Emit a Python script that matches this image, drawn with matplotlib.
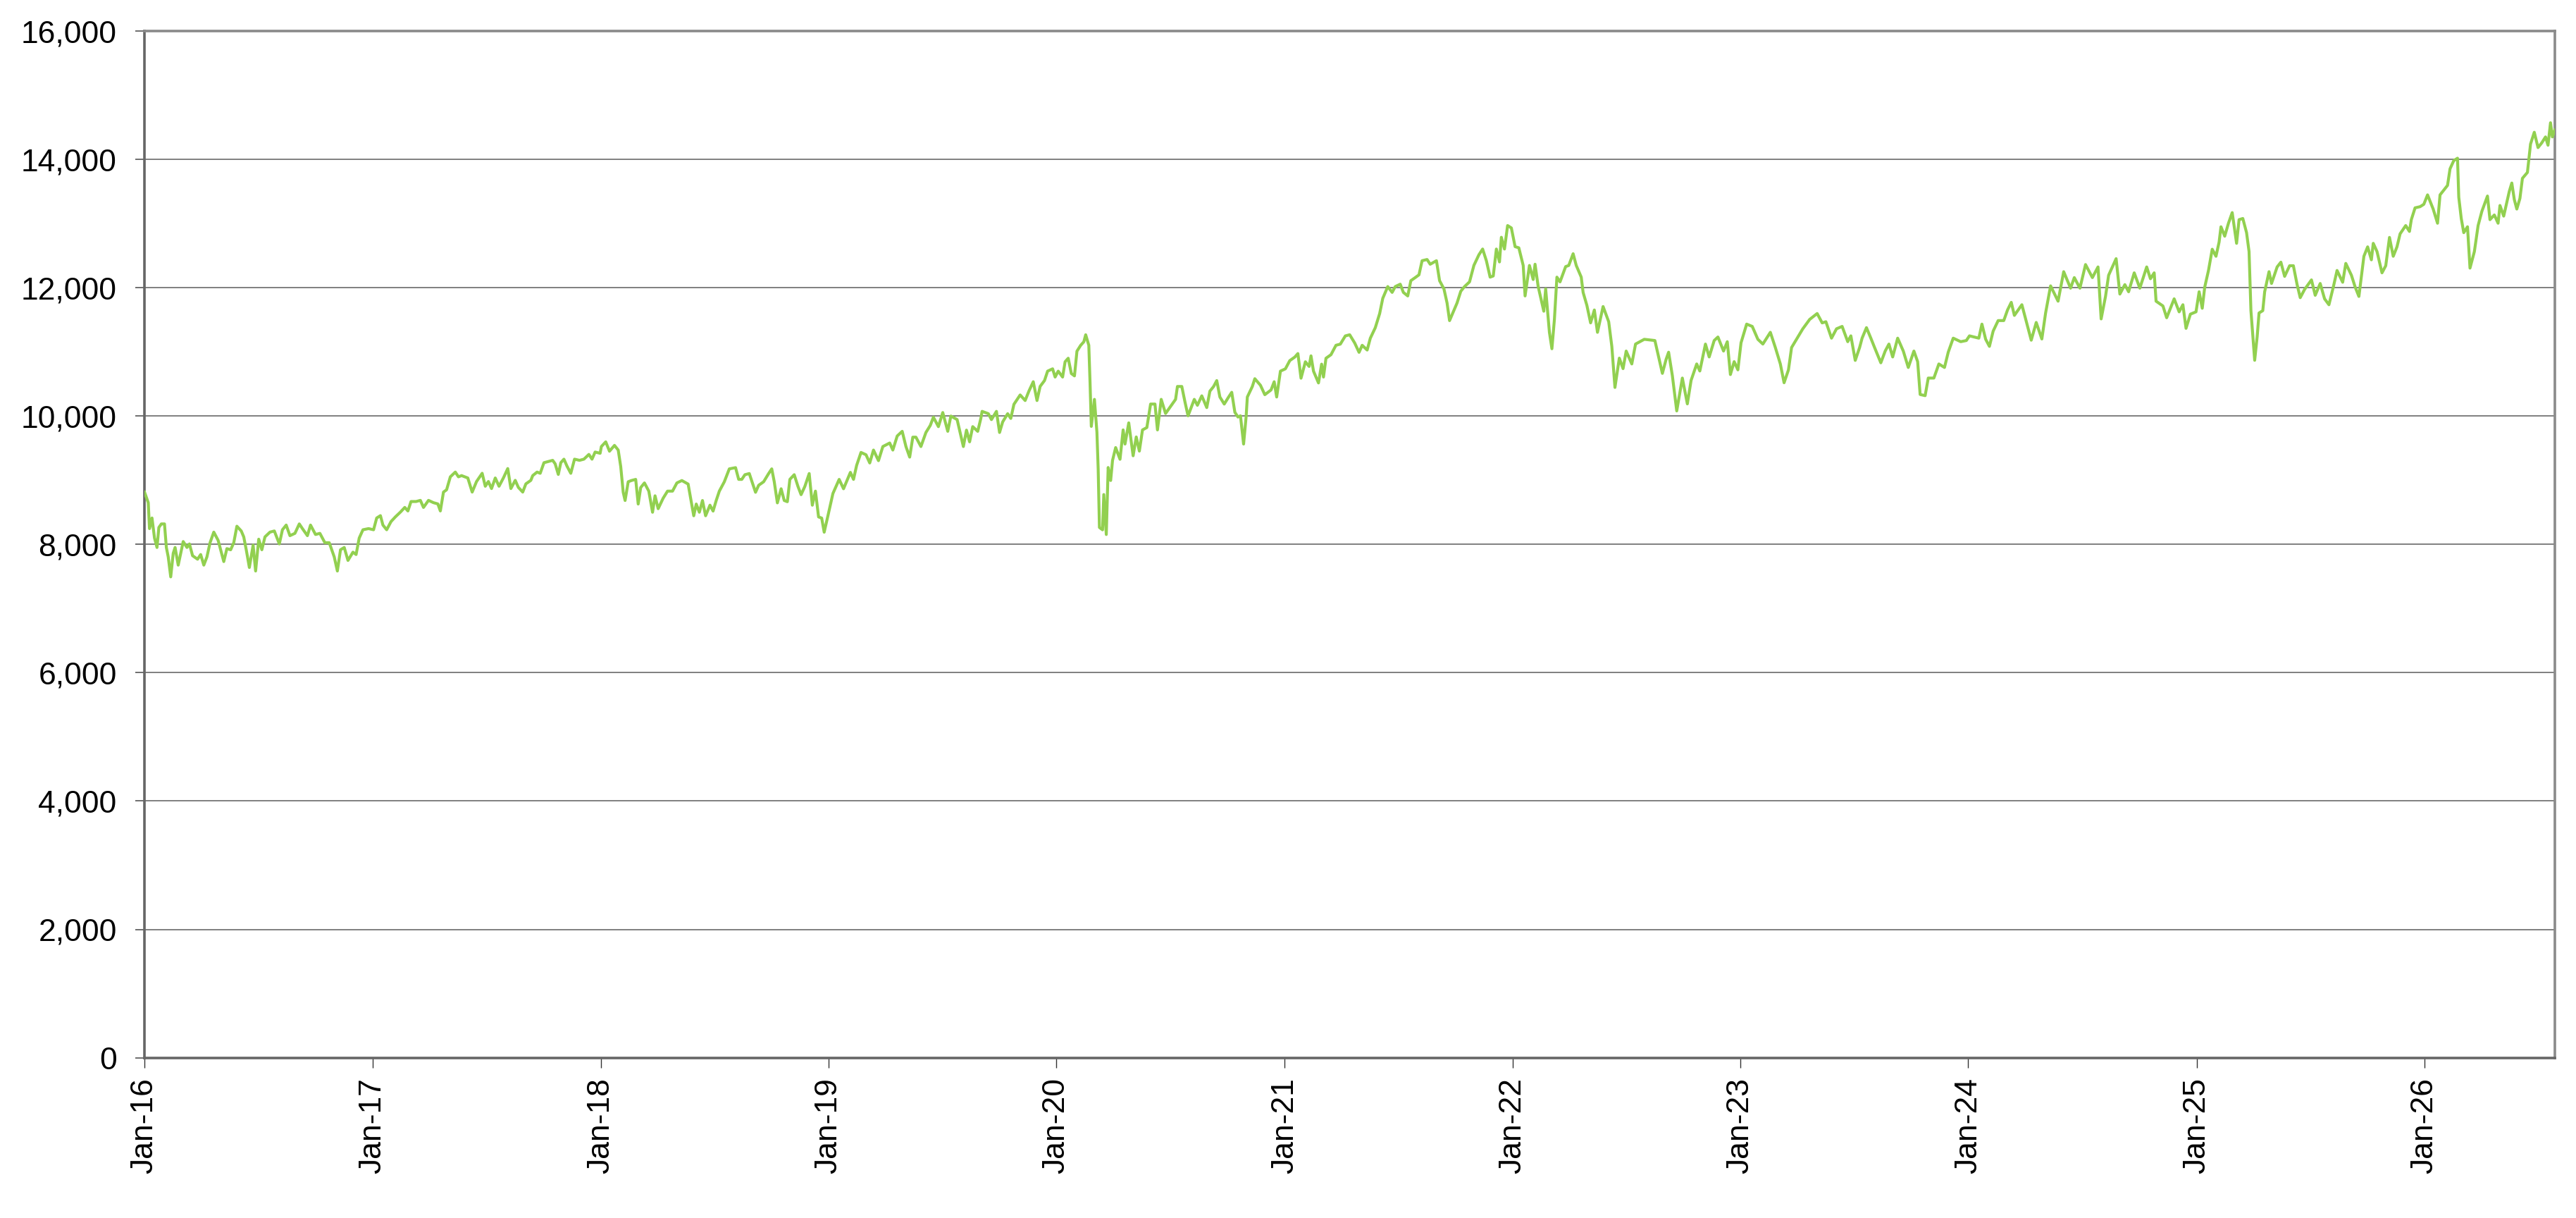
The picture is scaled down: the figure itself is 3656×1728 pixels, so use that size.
import matplotlib
matplotlib.use("Agg")
import matplotlib.pyplot as plt
import matplotlib.dates as mdates
from matplotlib.ticker import FuncFormatter
import pandas as pd

plt.rcParams['font.family'] = ['Liberation Sans', 'DejaVu Sans']

start_date = "2016-01-01"

# (days after start_date, index level)
days = [
    0, 6, 8, 12, 16, 20, 23, 27, 32, 35, 38, 42, 46, 49, 54, 62, 68, 72, 77, 85, 90, 95, 100, 105, 111, 118, 122, 127,
    132, 138, 143, 148, 155, 159, 163, 168, 174, 178, 183, 188, 193, 201, 208, 216, 221, 227, 233, 241, 248, 253, 261,
    266, 274, 281, 289, 296, 304, 309, 314, 320, 326, 334, 339, 344, 350, 359, 367, 372, 378, 382, 388, 395, 402, 410,
    417, 422, 427, 435, 442, 447, 455, 463, 470, 474, 479, 484, 490, 498, 503, 508, 518, 525, 532, 541, 546, 551, 556,
    562, 568, 575, 582, 587, 594, 599, 606, 611, 619, 622, 629, 634, 640, 647, 654, 658, 663, 667, 672, 677, 683, 689,
    697, 704, 712, 717, 722, 730,
    732, 739, 745, 753, 759, 763, 767, 770, 775, 780, 787, 791, 795, 801, 808, 814, 818, 823, 831, 838, 846, 853, 861,
    871, 874, 880, 884, 889, 894, 899, 906, 911, 916, 921, 929, 937, 947, 952, 957, 962, 969, 974, 979, 984, 992, 1000,
    1005, 1009, 1014, 1020, 1025, 1030, 1034, 1041, 1047, 1052, 1058, 1065, 1070, 1075, 1080, 1085, 1089, 1095, 1103,
    1113, 1120, 1131, 1136, 1141, 1148, 1156, 1162, 1168, 1176, 1183, 1194, 1199, 1206, 1214, 1220, 1226, 1231, 1236,
    1244, 1252, 1259, 1264, 1272, 1279, 1287, 1292, 1302, 1312, 1317, 1322, 1327, 1335, 1340, 1342, 1352, 1357, 1365,
    1370, 1375, 1383, 1388, 1393, 1403,
    1411, 1417, 1424, 1430, 1435, 1442, 1447, 1455, 1459, 1464, 1471, 1475, 1480, 1485, 1490, 1494, 1500, 1505, 1508,
    1513, 1515, 1517, 1522, 1526, 1528, 1530, 1535, 1537, 1541, 1544, 1548, 1551, 1556, 1563, 1568, 1571, 1577, 1584,
    1589, 1594, 1599, 1606, 1612, 1619, 1623, 1629, 1636, 1644, 1652, 1655, 1662, 1667, 1672, 1682, 1687, 1694, 1702,
    1707, 1713, 1718, 1723, 1730, 1737, 1742, 1747, 1752, 1756, 1761, 1765, 1767, 1775, 1779, 1788, 1795, 1805, 1810,
    1814, 1820, 1828, 1835, 1843, 1848, 1853, 1860, 1866, 1869, 1873, 1881, 1886, 1889, 1893, 1901, 1909, 1916, 1924,
    1931, 1939, 1946, 1951, 1959, 1964, 1972, 1979, 1984, 1992, 1999, 2004, 2012, 2017, 2024, 2029, 2037, 2042, 2047,
    2055, 2060, 2070, 2075, 2082, 2087, 2091, 2095, 2103, 2109, 2115, 2123, 2130, 2138,
    2144, 2150, 2156, 2161, 2166, 2171, 2174, 2179, 2184, 2190, 2196, 2202, 2209, 2212, 2219, 2225, 2228, 2233, 2242,
    2245, 2251, 2255, 2259, 2263, 2268, 2277, 2282, 2289, 2294, 2302, 2305, 2311, 2317, 2323, 2328, 2337, 2346, 2351,
    2356, 2363, 2369, 2374, 2383, 2389, 2403, 2420, 2426, 2432, 2438, 2442, 2448, 2455, 2464, 2472, 2478, 2487, 2492,
    2501, 2507, 2515, 2521, 2530, 2536, 2541, 2547, 2553, 2558, 2567, 2576, 2585, 2593, 2605, 2613, 2621, 2627, 2634,
    2639, 2648, 2657, 2668, 2680, 2688, 2694, 2703, 2711, 2720, 2729, 2734, 2741, 2748, 2752, 2759, 2766, 2772, 2782,
    2789, 2795, 2801, 2809, 2818, 2826, 2835, 2841, 2845, 2853, 2858, 2867, 2875, 2884, 2890, 2898, 2910, 2919, 2924,
    2939, 2944, 2950, 2956, 2962, 2970, 2979, 2985,
    2991, 2996, 3008, 3023, 3031, 3040, 3046, 3054, 3066, 3075, 3086, 3092, 3101, 3110, 3121, 3130, 3135, 3142, 3147,
    3159, 3165, 3173, 3179, 3188, 3197, 3208, 3214, 3220, 3223, 3234, 3240, 3252, 3260, 3266, 3271, 3278, 3287, 3292,
    3297, 3301, 3307, 3313, 3319, 3324, 3327, 3333, 3339, 3345, 3352, 3356, 3362, 3368, 3372, 3375, 3381, 3385, 3388,
    3394, 3397, 3404, 3408, 3417, 3423, 3429, 3437, 3443, 3449, 3454, 3461, 3472, 3478, 3486, 3493, 3500, 3507, 3513,
    3522, 3527, 3536, 3542, 3548, 3556, 3562, 3568, 3571, 3577, 3585, 3591, 3597, 3603, 3609, 3614, 3623, 3629, 3632,
    3638, 3646, 3652, 3658, 3667, 3674, 3678, 3684, 3690, 3694, 3700, 3706, 3708, 3712, 3716, 3722, 3726, 3733, 3739,
    3745, 3754, 3758, 3765, 3771, 3774, 3780, 3789, 3793, 3797, 3801, 3806, 3810, 3818, 3823, 3829, 3835, 3841, 3847,
    3851, 3855, 3858, 3862,
]

values = [
    8815, 8650, 8246, 8411, 8099, 7952, 8264, 8319, 8319, 7952, 7805, 7494, 7861, 7952, 7677, 8044, 7952, 8007, 7824,
    7769, 7842, 7677, 7805, 8026, 8191, 8062, 7916, 7732, 7934, 7916, 8026, 8283, 8209, 8117, 7916, 7640, 7989, 7585,
    8081, 7916, 8117, 8191, 8209, 8007, 8228, 8301, 8136, 8172, 8319, 8246, 8136, 8301, 8154, 8172, 8026, 8026, 7805,
    7585, 7916, 7952, 7750, 7879, 7842, 8099, 8228, 8246, 8228, 8411, 8448, 8301, 8228, 8356, 8429, 8503, 8576, 8521,
    8668, 8668, 8686, 8576, 8686, 8650, 8631, 8521, 8815, 8851, 9053, 9127, 9053, 9072, 9035, 8815, 8980, 9108, 8906,
    8980, 8870, 9035, 8906, 9035, 9182, 8870, 8998, 8888, 8815, 8943, 8998, 9072, 9127, 9108, 9273, 9292, 9310, 9255,
    9090, 9273, 9328, 9218, 9108, 9328, 9310, 9328, 9402, 9328, 9439, 9420,
    9525, 9598, 9452, 9543, 9470, 9214, 8812, 8684, 8976, 8995, 9013, 8629, 8885, 8958, 8830, 8501, 8757, 8556, 8720,
    8830, 8830, 8958, 8995, 8940, 8775, 8446, 8629, 8501, 8684, 8446, 8611, 8519, 8684, 8830, 8976, 9177, 9196, 9013,
    9013, 9086, 9104, 8958, 8812, 8921, 8976, 9104, 9177, 8976, 8647, 8867, 8684, 8665, 9013, 9086, 8903, 8775, 8903,
    9104, 8611, 8830, 8428, 8410, 8190, 8446, 8793, 9013, 8867, 9122, 9013, 9232, 9433, 9397, 9269, 9470, 9305, 9525,
    9580, 9470, 9689, 9762, 9525, 9360, 9671, 9671, 9525, 9744, 9854, 9982, 9835, 10055, 9762, 10000, 9945, 9525, 9781,
    9598, 9835, 9762, 9963, 10073, 10037, 9945, 10073, 9744, 9909, 10037, 9963, 10183, 10329,
    10242, 10388, 10535, 10242, 10462, 10553, 10700, 10736, 10608, 10700, 10608, 10846, 10901, 10663, 10626, 11011,
    11103, 11157, 11267, 11103, 10516, 9839, 10260, 9747, 9179, 8264, 8227, 8777, 8154, 9198, 8996, 9308, 9509, 9326,
    9784, 9564, 9894, 9381, 9674, 9454, 9784, 9821, 10187, 10187, 9784, 10260, 10040, 10150, 10260, 10461, 10461,
    10223, 10004, 10260, 10168, 10315, 10132, 10388, 10461, 10553, 10297, 10187, 10297, 10370, 10059, 9985, 10004,
    9564, 9985, 10297, 10461, 10582, 10480, 10333, 10407, 10535, 10297, 10700, 10736, 10864, 10919, 10974, 10590,
    10846, 10773, 10938, 10700, 10516, 10809, 10608, 10901, 10956, 11103, 11121, 11249, 11267, 11139, 10993, 11103,
    11029, 11212, 11377, 11597, 11835, 12018, 11927, 12018, 12055, 11927, 11872, 12110, 12165, 12201, 12421, 12440,
    12366, 12421, 12110, 11982, 11762, 11487, 11579, 11762, 11945, 12018, 12091, 12348, 12513,
    12603, 12420, 12165, 12183, 12603, 12402, 12786, 12603, 12969, 12932, 12640, 12622, 12347, 11872, 12347, 12128,
    12366, 12018, 11634, 11982, 11305, 11049, 11506, 12165, 12091, 12329, 12347, 12530, 12347, 12165, 11927, 11726,
    11452, 11653, 11305, 11707, 11470, 11086, 10446, 10903, 10739, 11013, 10812, 11122, 11196, 11177, 10921, 10665,
    10885, 10995, 10629, 10080, 10592, 10190, 10556, 10812, 10702, 11122, 10921, 11177, 11232, 11013, 11159, 10647,
    10848, 10720, 11141, 11433, 11397, 11196, 11122, 11305, 11068, 10812, 10519, 10720, 11068, 11214, 11360, 11506,
    11598, 11452, 11470, 11214, 11360, 11397, 11159, 11250, 10867, 11068, 11214, 11378, 11214, 11068, 10830, 11013,
    11122, 10921, 11214, 11013, 10757, 11013, 10848, 10336, 10318, 10592, 10592, 10812, 10757, 10995, 11214, 11159,
    11177, 11250, 11214, 11433, 11196, 11086, 11324, 11488, 11488, 11653,
    11772, 11569, 11735, 11182, 11459, 11201, 11606, 12029, 11790, 12250, 11993, 12158, 11993, 12361, 12158, 12324,
    11514, 11864, 12195, 12453, 11901, 12048, 11937, 12232, 11993, 12324, 12140, 12232, 11790, 11716, 11532, 11827,
    11624, 11735, 11367, 11588, 11624, 11937, 11680, 12011, 12269, 12600, 12490, 12711, 12950, 12803, 13005, 13171,
    12692, 13061, 13079, 12858, 12563, 11643, 10869, 11238, 11606, 11643, 11937, 12250, 12066, 12324, 12398, 12177,
    12343, 12343, 12048, 11845, 11974, 12122, 11882, 12066, 11827, 11735, 12011, 12269, 12085, 12379, 12195, 12011,
    11864, 12490, 12637, 12435, 12692, 12564, 12232, 12343, 12784, 12490, 12637, 12840, 12969, 12877, 13061, 13245,
    13263, 13300, 13447, 13226, 13005, 13447, 13521, 13595, 13853, 13981, 14018, 13411, 13079, 12858, 12950, 12306,
    12563, 12969, 13190, 13429, 13061, 13134, 13005, 13282, 13116, 13503, 13632, 13374, 13226, 13392, 13705, 13797,
    14239, 14423, 14184, 14258, 14350, 14221, 14571, 14350, 14460,
]

y_ticks = list(range(0, 16001, 2000))
line_color = "#92D050"

dates = pd.Timestamp(start_date) + pd.to_timedelta(days, unit="D")

fig = plt.figure(figsize=(18.28, 8.64), dpi=200)
ax = fig.add_axes([0.0561, 0.1316, 0.9918 - 0.0561, 0.9745 - 0.1316])

ax.plot(dates, values, color=line_color, lw=1.5, solid_joinstyle="round", zorder=3)

ax.set_ylim(0, 16000)
ax.set_yticks(y_ticks)
ax.yaxis.set_major_formatter(FuncFormatter(lambda v, p: f"{int(v):,}"))
ax.set_xlim(dates[0], dates[-1])
ax.xaxis.set_major_locator(mdates.YearLocator())
ax.xaxis.set_major_formatter(mdates.DateFormatter("%b-%y"))

ax.grid(axis="y", color="#7f7f7f", lw=0.7, zorder=1)
ax.set_axisbelow(True)

for side in ["top", "right"]:
    ax.spines[side].set_color("#8a8a8a")
    ax.spines[side].set_linewidth(1.3)
for side in ["left", "bottom"]:
    ax.spines[side].set_color("#666666")
    ax.spines[side].set_linewidth(1.3)

ax.tick_params(axis="y", direction="out", length=4.7, width=0.6, color="#555555",
               labelsize=16, pad=9.5, labelcolor="black")
ax.tick_params(axis="x", direction="out", length=4.9, width=0.5, color="#333333",
               labelsize=16, pad=5.5, labelcolor="black")
for lab in ax.get_xticklabels():
    lab.set_rotation(90)
    lab.set_ha("center")
    lab.set_va("top")

fig.savefig("out.png", dpi=200, facecolor="white")
